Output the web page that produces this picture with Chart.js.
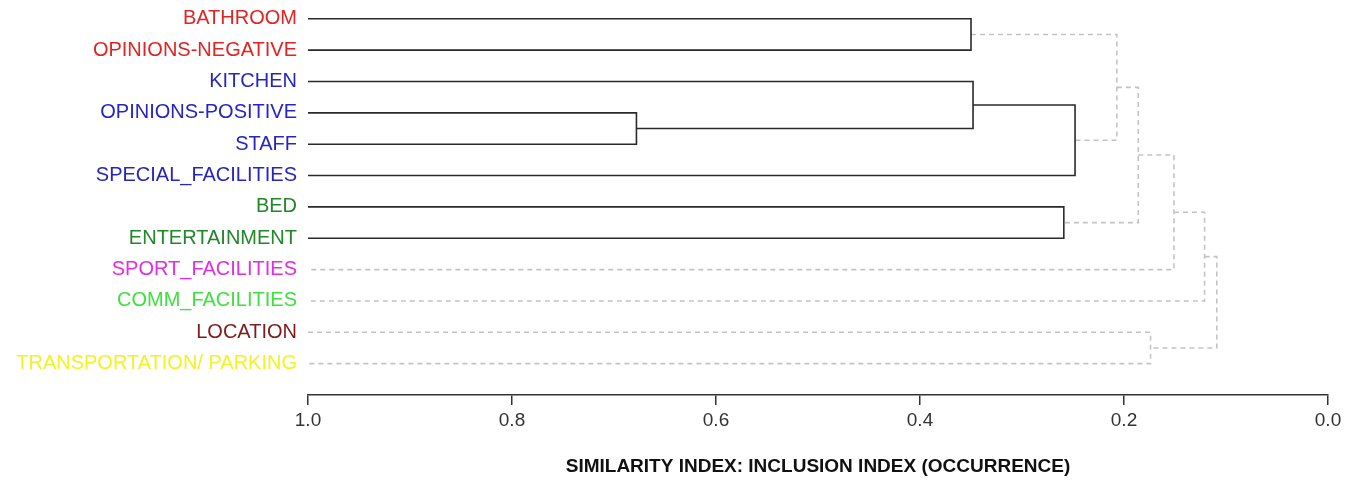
<!DOCTYPE html>
<html>
<head>
<meta charset="utf-8">
<script src="https://cdn.jsdelivr.net/npm/chart.js@4.4.1/dist/chart.umd.min.js"></script>
<style>
	body { margin: 0; background: #fff; }
	canvas { display: block; }
</style>
</head>
<body>
<canvas id="dendro" width="1362" height="483"></canvas>
<script>
// leaves, top to bottom
var leaves = [
	"BATHROOM", "OPINIONS-NEGATIVE", "KITCHEN", "OPINIONS-POSITIVE", "STAFF",
	"SPECIAL_FACILITIES", "BED", "ENTERTAINMENT", "SPORT_FACILITIES",
	"COMM_FACILITIES", "LOCATION", "TRANSPORTATION/ PARKING"
];
var leafColors = [
	"#e02424", "#e02424", "#2626bf", "#2626bf", "#2626bf",
	"#2626bf", "#22862a", "#22862a", "#e02ee0",
	"#3fe03f", "#7c1c1c", "#f2f224"
];

// merge k joins node mergeA[k] and mergeB[k] (0..11 = leaves, 12+k = merge k)
var mergeA = [0, 3, 2, 14, 6, 12, 17, 18, 19, 10, 20];
var mergeB = [1, 4, 13, 5, 7, 15, 16, 8, 9, 11, 21];
var mergeHeight = [0.350, 0.678, 0.348, 0.248, 0.259, 0.207, 0.186, 0.151, 0.121, 0.174, 0.109];

var xTicks = [1.0, 0.8, 0.6, 0.4, 0.2, 0.0];
var cutLevel = 0.23;   // merges below this are drawn dashed

// node positions: x = similarity, y = leaf index (mean of children)
var nodeX = leaves.map(function() { return 1.0; });
var nodeY = leaves.map(function(l, i) { return i; });
mergeHeight.forEach(function(h, k) {
	nodeX.push(h);
	nodeY.push((nodeY[mergeA[k]] + nodeY[mergeB[k]]) / 2);
});

var datasets = mergeHeight.map(function(h, k) {
	var a = mergeA[k], b = mergeB[k];
	var solid = h >= cutLevel;
	return {
		data: [
			{x: nodeX[a], y: nodeY[a]},
			{x: h, y: nodeY[a]},
			{x: h, y: nodeY[b]},
			{x: nodeX[b], y: nodeY[b]}
		],
		showLine: true,
		borderColor: solid ? "#2a2a2a" : "#c4c4c4",
		borderWidth: 1.6,
		borderDash: solid ? [] : [5, 4],
		pointRadius: 0,
		tension: 0,
		clip: 4
	};
});

var font = "'Liberation Sans', Arial, sans-serif";

new Chart(document.getElementById("dendro"), {
	type: "scatter",
	data: { datasets: datasets },
	options: {
		responsive: false,
		animation: false,
		events: [],
		layout: { padding: { top: 0, right: 34, bottom: 0, left: 0 } },
		plugins: { legend: { display: false }, tooltip: { enabled: false } },
		scales: {
			x: {
				type: "linear",
				min: 0,
				max: 1,
				reverse: true,
				afterBuildTicks: function(scale) {
					scale.ticks = xTicks.map(function(v) { return {value: v}; });
				},
				afterFit: function(scale) { scale.height = 88; },
				ticks: {
					padding: 4,
					color: "#333",
					font: { family: font, size: 19 },
					callback: function(v) { return Number(v).toFixed(1); }
				},
				grid: { drawOnChartArea: false, drawTicks: true, tickLength: 10, color: "#333", lineWidth: 1.5 },
				border: { display: true, color: "#333", width: 1.5 },
				title: {
					display: true,
					text: "SIMILARITY INDEX: INCLUSION INDEX (OCCURRENCE)",
					color: "#111",
					font: { family: font, size: 19, weight: "bold" },
					padding: { top: 0, bottom: 5 }
				}
			},
			y: {
				type: "linear",
				min: -0.6,
				max: 12,
				reverse: true,
				afterBuildTicks: function(scale) {
					scale.ticks = leaves.map(function(l, i) { return {value: i}; });
				},
				afterFit: function(scale) {
					scale.width = 308;
					// labels sit well inside the range, no extra room needed
					scale.paddingTop = 0;
					scale.paddingBottom = 0;
				},
				ticks: {
					padding: 11,
					font: { family: font, size: 20 },
					color: function(ctx) { return leafColors[ctx.tick.value]; },
					callback: function(v) { return leaves[v]; }
				},
				grid: { display: false, drawTicks: false },
				border: { display: false }
			}
		}
	}
});
</script>
</body>
</html>
